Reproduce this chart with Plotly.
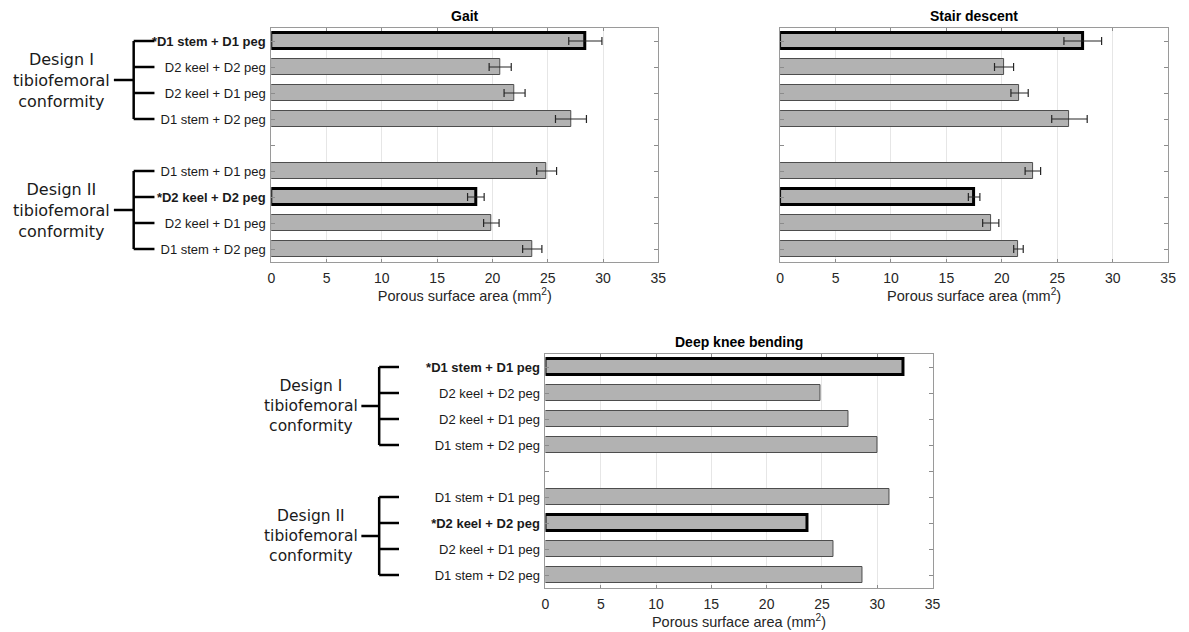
import plotly.graph_objects as go

# Implant fixation combinations (top to bottom within each design group)
combos = [
    "*D1 stem + D1 peg", "D2 keel + D2 peg", "D2 keel + D1 peg", "D1 stem + D2 peg",
    "D1 stem + D1 peg", "*D2 keel + D2 peg", "D2 keel + D1 peg", "D1 stem + D2 peg",
]
highlight = [True, False, False, False, False, True, False, False]
group_names = [
    "Design I<br>tibiofemoral<br>conformity",
    "Design II<br>tibiofemoral<br>conformity",
]

# Porous surface area (mm^2): mean and standard deviation
gait_mean = [28.4, 20.7, 22.0, 27.1, 24.9, 18.5, 19.9, 23.6]
gait_sd = [1.5, 1.0, 0.95, 1.4, 0.9, 0.75, 0.7, 0.87]
stair_mean = [27.3, 20.2, 21.6, 26.1, 22.8, 17.5, 19.0, 21.5]
stair_sd = [1.7, 0.86, 0.78, 1.6, 0.7, 0.52, 0.73, 0.43]
dkb_mean = [32.4, 24.9, 27.4, 30.0, 31.1, 23.7, 26.0, 28.7]

x_ticks = [0, 5, 10, 15, 20, 25, 30, 35]

W, H = 1189, 632
GROUP = 4
# slot positions: one empty slot between the two design groups
pos = [i + 1 + i // GROUP for i in range(len(combos))]
n_slots = pos[-1]

tick_text = [f"<b>{c}</b>" if h else c for c, h in zip(combos, highlight)]

FONT = "Liberation Sans, Arial, sans-serif"
BAR_FILL = "#b2b2b2"
line_w = [3 if h else 1 for h in highlight]
line_c = ["#000000" if h else "#4d4d4d" for h in highlight]


def px(x):
    return x / W


def py(y):
    return 1 - y / H


fig = go.Figure()

panels = [
    # (title, means, sds, xaxis id, yaxis id, x domain px, y domain px, show labels)
    ("Gait", gait_mean, gait_sd, "x", "y", (270, 661), (28, 262), True),
    ("Stair descent", stair_mean, stair_sd, "x2", "y2", (784, 1176), (28, 262), False),
    ("Deep knee bending", dkb_mean, None, "x3", "y3", (547, 938), (354, 588), True),
]

annotations = []
shapes = []

for title, mean, sd, xa, ya, (xl, xr), (yt, yb), show_lbl in panels:
    err = None
    if sd is not None:
        err = dict(type="data", array=sd, visible=True, color="#262626",
                   thickness=1.2, width=4)
    fig.add_trace(go.Bar(
        x=mean, y=pos, orientation="h", width=0.62,
        marker=dict(color=BAR_FILL, line=dict(color=line_c, width=line_w)),
        error_x=err, xaxis=xa, yaxis=ya, showlegend=False,
        hovertemplate="%{x:.1f} mm²<extra></extra>",
    ))

    ax_suffix = "" if xa == "x" else xa[1:]
    fig.layout["xaxis" + ax_suffix] = dict(
        domain=[px(xl), px(xr)], anchor=ya, range=[0, 35],
        tickvals=x_ticks, ticks="inside", ticklen=3, tickcolor="#8c8c8c",
        showline=True, linecolor="#9a9a9a", linewidth=1, mirror="ticks",
        showgrid=True, gridcolor="#e6e6e6", gridwidth=1, zeroline=False,
        ticklabelstandoff=3,
        tickfont=dict(family=FONT, size=14, color="#262626"),
        title=dict(text="Porous surface area (mm<sup>2</sup>)", standoff=6,
                   font=dict(family=FONT, size=14.5, color="#262626")),
        fixedrange=True,
    )
    fig.layout["yaxis" + ax_suffix] = dict(
        domain=[py(yb), py(yt)], anchor=xa, range=[n_slots + 0.5, 0.5],
        tickvals=pos, ticktext=tick_text,
        showticklabels=show_lbl, ticks="inside", ticklen=4, tickcolor="#8c8c8c",
        minor=dict(dtick=1, tick0=1, ticks="inside", ticklen=4,
                   tickcolor="#8c8c8c", showgrid=False),
        showline=True, linecolor="#9a9a9a", linewidth=1, mirror="ticks",
        showgrid=False, zeroline=False, ticklabelstandoff=2,
        tickfont=dict(family=FONT, size=13, color="#1a1a1a"),
        fixedrange=True,
    )

    annotations.append(dict(
        text=f"<b>{title}</b>", x=px((xl + xr) / 2), y=py(yt - 2),
        xref="paper", yref="paper", xanchor="center", yanchor="bottom",
        showarrow=False, font=dict(family=FONT, size=14, color="#000000"),
    ))

    if show_lbl:
        # group brackets to the left of the category labels
        if ya == "y":
            x_stub, x_vert, x_end, x_txt, txt_size = 111, 131, 152, 58, 16
        else:
            x_stub, x_vert, x_end, x_txt, txt_size = 361, 379, 399, 310, 15.5
        bline = dict(color="#000000", width=2.5)
        for g, name in enumerate(group_names):
            members = pos[g * GROUP:(g + 1) * GROUP]
            top, bot = members[0], members[-1]
            mid = (top + bot) / 2
            shapes.append(dict(type="line", xref="paper", yref=ya,
                               x0=px(x_vert), x1=px(x_vert), y0=top, y1=bot, line=bline))
            for m in members:
                shapes.append(dict(type="line", xref="paper", yref=ya,
                                   x0=px(x_vert), x1=px(x_end), y0=m, y1=m, line=bline))
            shapes.append(dict(type="line", xref="paper", yref=ya,
                               x0=px(x_stub), x1=px(x_vert), y0=mid, y1=mid, line=bline))
            annotations.append(dict(
                text=name, x=px(x_txt), y=mid, xref="paper", yref=ya,
                xanchor="center", yanchor="middle", showarrow=False,
                font=dict(family="DejaVu Sans, Verdana, sans-serif",
                          size=txt_size, color="#1a1a1a"),
            ))

fig.update_layout(
    width=W, height=H, margin=dict(l=0, r=0, t=0, b=0),
    paper_bgcolor="white", plot_bgcolor="white",
    annotations=annotations, shapes=shapes, bargap=0,
)

fig.write_html("out.html")
